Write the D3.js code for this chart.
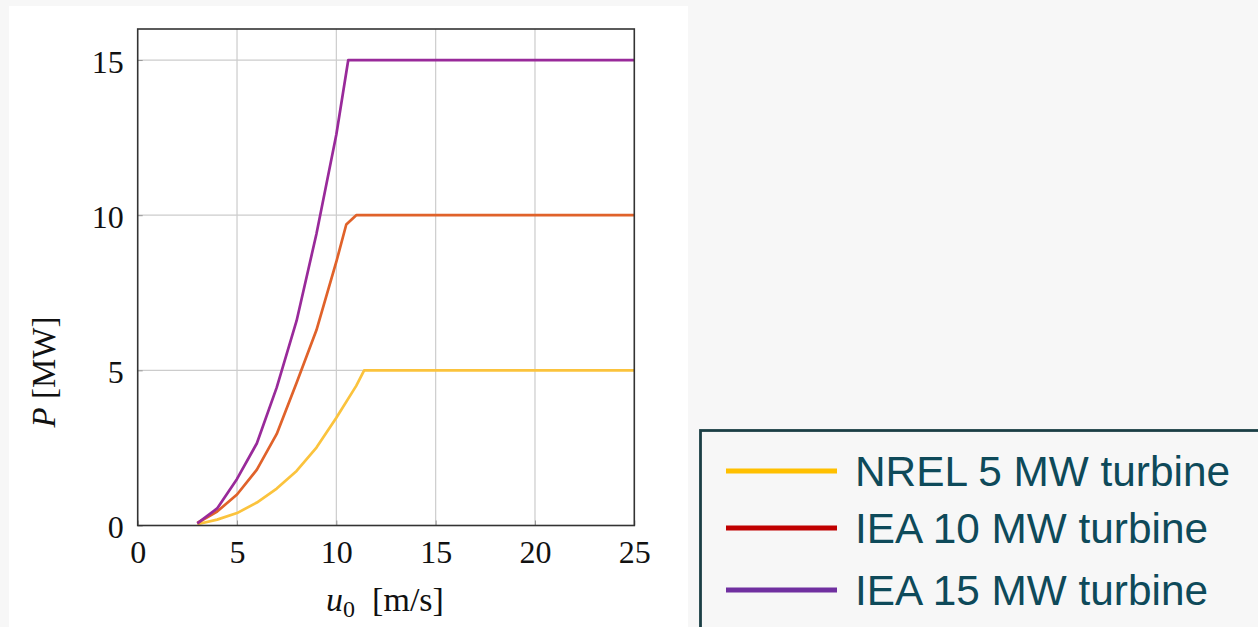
<!DOCTYPE html>
<html>
<head>
<meta charset="utf-8">
<script src="https://cdn.jsdelivr.net/npm/d3@7"></script>
<style>
  body { margin: 0; background: #f7f7f7; }
  svg { display: block; }
</style>
</head>
<body>
<div id="chart"></div>
<script>
        // wind speed / power samples
        var nrelSpeed = [3, 4, 5, 6, 7, 8, 9, 10, 11, 11.4, 25];
        var nrelPower = [0.04, 0.19, 0.40, 0.74, 1.19, 1.76, 2.51, 3.47, 4.5, 5, 5];

        var iea10Speed = [3, 4, 5, 6, 7, 8, 9, 10, 10.5, 11, 25];
        var iea10Power = [0.08, 0.45, 1.0, 1.8, 2.95, 4.6, 6.3, 8.5, 9.7, 10, 10];

        var iea15Speed = [3, 4, 5, 6, 7, 8, 9, 10, 10.6, 25];
        var iea15Power = [0.07, 0.55, 1.5, 2.65, 4.45, 6.6, 9.4, 12.6, 15, 15];

        var seriesNames = ["NREL 5 MW turbine", "IEA 10 MW turbine", "IEA 15 MW turbine"];
        var lineColors = ["#fbc33d", "#e0622a", "#992a9a"];
        var legendColors = ["#ffc000", "#c00000", "#7030a0"];

        var xTicks = [0, 5, 10, 15, 20, 25];
        var yTicks = [0, 5, 10, 15];

        var fullWidth = 1258;
        var fullHeight = 627;
        var plot = {left: 137.7, right: 634.3, top: 29, bottom: 525.5};

        var serif = "'Liberation Serif', 'DejaVu Serif', serif";

        var svg = d3.select("#chart")
                    .append("svg")
                    .attr("width", fullWidth)
                    .attr("height", fullHeight);

        // white panel behind the plot
        svg.append("rect")
            .attr("x", 9)
            .attr("y", 6)
            .attr("width", 679)
            .attr("height", fullHeight - 6)
            .attr("fill", "#ffffff");

        var xScale = d3.scaleLinear()
                       .domain([0, 25])
                       .range([plot.left, plot.right]);

        var yScale = d3.scaleLinear()
                       .domain([0, 16])
                       .range([plot.bottom, plot.top]);

        // grid
        svg.append("g")
            .attr("class", "grid-x")
            .selectAll("line")
            .data(xTicks.slice(1, -1))
            .enter()
            .append("line")
            .attr("x1", function(d) { return xScale(d); })
            .attr("x2", function(d) { return xScale(d); })
            .attr("y1", plot.top)
            .attr("y2", plot.bottom)
            .attr("stroke", "#cccccc")
            .attr("stroke-width", 1.2);

        svg.append("g")
            .attr("class", "grid-y")
            .selectAll("line")
            .data(yTicks.slice(1))
            .enter()
            .append("line")
            .attr("x1", plot.left)
            .attr("x2", plot.right)
            .attr("y1", function(d) { return yScale(d); })
            .attr("y2", function(d) { return yScale(d); })
            .attr("stroke", "#cccccc")
            .attr("stroke-width", 1.2);

        // axes, pgfplots style: ticks inside, serif labels
        var xAxis = d3.axisBottom(xScale)
                      .tickValues(xTicks)
                      .tickSizeInner(-5)
                      .tickSizeOuter(0)
                      .tickPadding(14);

        var yAxis = d3.axisLeft(yScale)
                      .tickValues(yTicks)
                      .tickSizeInner(-5)
                      .tickSizeOuter(0)
                      .tickPadding(14);

        var gx = svg.append("g")
            .attr("class", "x-axis")
            .attr("transform", "translate(0," + plot.bottom + ")")
            .call(xAxis);

        var gy = svg.append("g")
            .attr("class", "y-axis")
            .attr("transform", "translate(" + plot.left + ",0)")
            .call(yAxis);

        [gx, gy].forEach(function(g) {
            g.select(".domain").remove();
            g.selectAll(".tick line").attr("stroke", "#999999").attr("stroke-width", 1);
            g.selectAll(".tick text")
                .style("font-family", serif)
                .style("font-size", "32px")
                .attr("fill", "#111111");
        });
        gx.selectAll(".tick text").attr("dy", "0.72em");
        gy.selectAll(".tick text").attr("dy", "0.38em");

        // lines
        var line = d3.line()
                     .x(function(d) { return xScale(d[0]); })
                     .y(function(d) { return yScale(d[1]); });

        var seriesData = [
            d3.zip(nrelSpeed, nrelPower),
            d3.zip(iea10Speed, iea10Power),
            d3.zip(iea15Speed, iea15Power)
        ];

        svg.append("g")
            .attr("class", "lines")
            .selectAll("path")
            .data(seriesData)
            .enter()
            .append("path")
            .attr("d", line)
            .attr("fill", "none")
            .attr("stroke", function(d, i) { return lineColors[i]; })
            .attr("stroke-width", 2.7)
            .attr("stroke-linejoin", "round");

        // frame
        svg.append("rect")
            .attr("x", plot.left)
            .attr("y", plot.top)
            .attr("width", plot.right - plot.left)
            .attr("height", plot.bottom - plot.top)
            .attr("fill", "none")
            .attr("stroke", "#333333")
            .attr("stroke-width", 1.6);

        // axis titles
        var xTitle = svg.append("text")
            .attr("x", 385)
            .attr("y", 611)
            .attr("text-anchor", "middle")
            .style("font-family", serif)
            .style("font-size", "34px")
            .attr("fill", "#111111");
        xTitle.append("tspan").style("font-style", "italic").text("u");
        xTitle.append("tspan").attr("dy", 6).style("font-size", "24px").text("0");
        xTitle.append("tspan").attr("dy", -6).text("\u2002[m/s]");

        var yTitle = svg.append("text")
            .attr("transform", "translate(55,372) rotate(-90)")
            .attr("text-anchor", "middle")
            .style("font-family", serif)
            .style("font-size", "33px")
            .attr("fill", "#111111");
        yTitle.append("tspan").style("font-style", "italic").text("P");
        yTitle.append("tspan").text(" [MW]");

        // legend
        var legend = svg.append("g").attr("class", "legend");

        legend.append("rect")
            .attr("x", 700.5)
            .attr("y", 430.5)
            .attr("width", 600)
            .attr("height", 300)
            .attr("fill", "#f7f7f7")
            .attr("stroke", "#1b3f45")
            .attr("stroke-width", 2.8);

        var legendY = [471, 528, 590];
        var legendTextLen = [375, 353, 353];

        var items = legend.selectAll("g.item")
            .data(seriesNames)
            .enter()
            .append("g")
            .attr("class", "item")
            .attr("transform", function(d, i) { return "translate(0," + legendY[i] + ")"; });

        items.append("line")
            .attr("x1", 726)
            .attr("x2", 837)
            .attr("y1", 0)
            .attr("y2", 0)
            .attr("stroke", function(d, i) { return legendColors[i]; })
            .attr("stroke-width", 5);

        items.append("text")
            .attr("x", 855)
            .attr("y", 0)
            .attr("dy", "0.36em")
            .attr("textLength", function(d, i) { return legendTextLen[i]; })
            .attr("lengthAdjust", "spacingAndGlyphs")
            .style("font-family", "'Liberation Sans', Arial, sans-serif")
            .style("font-size", "42px")
            .attr("fill", "#0e4a5a")
            .text(function(d) { return d; });
</script>
</body>
</html>
